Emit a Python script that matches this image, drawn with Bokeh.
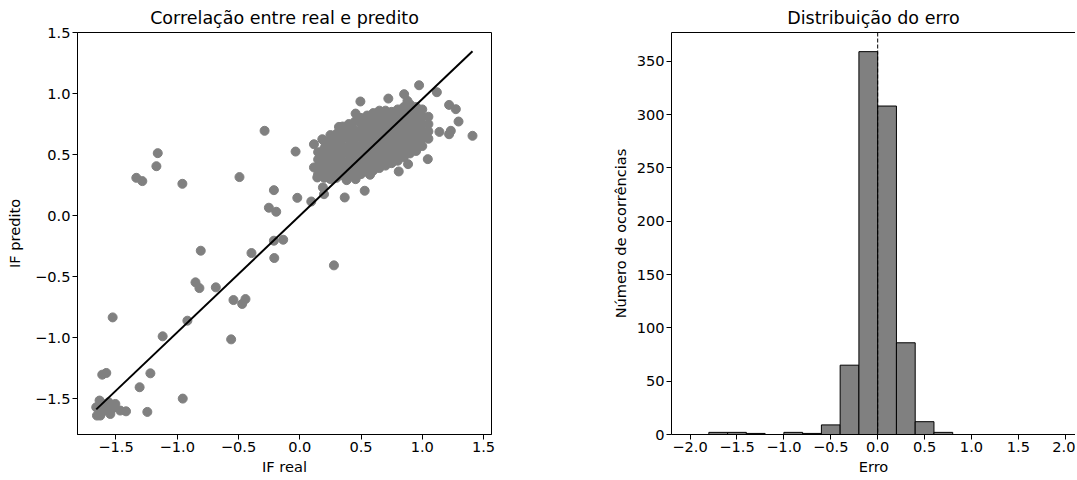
from bokeh.plotting import figure
from bokeh.models import Range1d, FixedTicker, CustomJSTickFormatter, LinearAxis, Span
from bokeh.layouts import row
from bokeh.embed import file_html
from bokeh.resources import INLINE

FONT = "DejaVu Sans"

# ---------------- data: scatter (real vs predicted) ----------------
outlier_real = [-0.287, -0.034, -1.159, -1.170, -1.334, -1.285, -0.958, -0.492, -0.211, -0.020,
                -0.252, -0.192, -0.211, -0.135, -0.208, -0.394, -0.808, 0.279, -0.851, -0.819,
                -0.685, -0.541, -0.443, -0.470, -0.917, -1.119, -0.560, -1.527, -1.612, -1.579,
                -1.219, -1.307, -0.955, -1.244, -1.418,
                -1.655, -1.634, -1.614, -1.574, -1.546, -1.505, -1.601, -1.661, -1.465, -1.533,
                -1.628, -1.560,
                0.094, 0.189, 0.198, 0.367, 0.530, 0.383, 0.143, 0.116, 1.045, 1.140,
                1.219, 1.233, 1.296, 1.410, 1.219, 1.274, 1.119, 0.974, 0.852, 0.723,
                0.495, 0.456, 0.879, 0.808, 0.884, 0.574, 0.456, 0.982, 0.116, 0.184, 0.320]
outlier_pred = [0.695, 0.525, 0.512, 0.405, 0.310, 0.283, 0.261, 0.316, 0.209, 0.146,
                0.065, 0.032, -0.205, -0.197, -0.347, -0.306, -0.287, -0.407, -0.546, -0.593,
                -0.587, -0.691, -0.683, -0.723, -0.860, -0.988, -1.013, -0.833, -1.302, -1.288,
                -1.291, -1.405, -1.498, -1.607, -1.602,
                -1.637, -1.514, -1.610, -1.582, -1.624, -1.542, -1.542, -1.569, -1.596, -1.582,
                -1.637, -1.528,
                0.116, 0.231, 0.176, 0.149, 0.204, 0.291, 0.313, 0.395, 0.463, 0.686,
                0.667, 0.695, 0.771, 0.654, 0.907, 0.872, 1.011, 1.068, 0.995, 0.959,
                0.935, 0.836, 0.940, 0.362, 0.422, 0.335, 0.299, 0.599, 0.585, 0.626, 0.727]

cluster_real = [0.15, 0.15, 0.15, 0.15,
                0.20, 0.20, 0.20, 0.20, 0.20, 0.20,
                0.25, 0.25, 0.25, 0.25, 0.25, 0.25, 0.25,
                0.30, 0.30, 0.30, 0.30, 0.30, 0.30, 0.30,
                0.35, 0.35, 0.35, 0.35, 0.35, 0.35, 0.35, 0.35,
                0.40, 0.40, 0.40, 0.40, 0.40, 0.40, 0.40, 0.40,
                0.45, 0.45, 0.45, 0.45, 0.45, 0.45, 0.45, 0.45,
                0.50, 0.50, 0.50, 0.50, 0.50, 0.50, 0.50, 0.50, 0.50,
                0.55, 0.55, 0.55, 0.55, 0.55, 0.55, 0.55, 0.55, 0.55,
                0.60, 0.60, 0.60, 0.60, 0.60, 0.60, 0.60, 0.60, 0.60,
                0.65, 0.65, 0.65, 0.65, 0.65, 0.65, 0.65, 0.65, 0.65,
                0.70, 0.70, 0.70, 0.70, 0.70, 0.70, 0.70, 0.70, 0.70,
                0.75, 0.75, 0.75, 0.75, 0.75, 0.75, 0.75, 0.75,
                0.80, 0.80, 0.80, 0.80, 0.80, 0.80, 0.80, 0.80,
                0.85, 0.85, 0.85, 0.85, 0.85, 0.85, 0.85, 0.85,
                0.90, 0.90, 0.90, 0.90, 0.90, 0.90, 0.90, 0.90,
                0.95, 0.95, 0.95, 0.95, 0.95, 0.95, 0.95,
                1.00, 1.00, 1.00, 1.00, 1.00, 1.00,
                1.05, 1.05, 1.05, 1.05]
cluster_pred = [0.34, 0.40, 0.46, 0.52,
                0.31, 0.37, 0.43, 0.49, 0.55, 0.61,
                0.30, 0.36, 0.42, 0.48, 0.54, 0.60, 0.66,
                0.31, 0.37, 0.43, 0.49, 0.55, 0.61, 0.67,
                0.33, 0.39, 0.45, 0.51, 0.57, 0.63, 0.69, 0.73,
                0.33, 0.39, 0.45, 0.51, 0.57, 0.63, 0.69, 0.75,
                0.34, 0.40, 0.46, 0.52, 0.58, 0.64, 0.70, 0.77,
                0.34, 0.40, 0.46, 0.52, 0.58, 0.64, 0.70, 0.76, 0.80,
                0.36, 0.42, 0.48, 0.54, 0.60, 0.66, 0.72, 0.78, 0.82,
                0.37, 0.43, 0.49, 0.55, 0.61, 0.67, 0.73, 0.79, 0.84,
                0.39, 0.45, 0.51, 0.57, 0.63, 0.69, 0.75, 0.81, 0.86,
                0.41, 0.47, 0.53, 0.59, 0.65, 0.71, 0.77, 0.83, 0.86,
                0.43, 0.49, 0.55, 0.61, 0.67, 0.73, 0.79, 0.85,
                0.45, 0.51, 0.57, 0.63, 0.69, 0.75, 0.81, 0.87,
                0.48, 0.54, 0.60, 0.66, 0.72, 0.78, 0.84, 0.89,
                0.51, 0.57, 0.63, 0.69, 0.75, 0.81, 0.87, 0.91,
                0.53, 0.59, 0.65, 0.71, 0.77, 0.83, 0.89,
                0.57, 0.63, 0.69, 0.75, 0.81, 0.87,
                0.63, 0.69, 0.75, 0.81]

fit_slope = 0.955
fit_intercept = 0.0

scatter_ticks = [-1.5, -1.0, -0.5, 0.0, 0.5, 1.0, 1.5]

# ---------------- data: error histogram ----------------
bin_edges = [-2.0, -1.8, -1.6, -1.4, -1.2, -1.0, -0.8, -0.6, -0.4, -0.2, 0.0,
             0.2, 0.4, 0.6, 0.8, 1.0, 1.2, 1.4, 1.6, 1.8, 2.0]
bin_counts = [0, 2, 2, 1, 0, 2, 1, 9, 65, 359, 308, 86, 12, 2, 0, 0, 0, 0, 0, 0]
hist_x_ticks = [-2.0, -1.5, -1.0, -0.5, 0.0, 0.5, 1.0, 1.5, 2.0]
hist_y_ticks = [0, 50, 100, 150, 200, 250, 300, 350]

# ---------------- helpers ----------------
minus_fmt = "return tick.toFixed(1).replace('-', '\\u2212');"
TICK_SIZE = "14.6px"
LABEL_SIZE = "14.6px"
TITLE_SIZE = "17.5px"


def style_axis(ax, label_standoff):
    ax.axis_line_color = "black"
    ax.axis_line_width = 1
    ax.major_tick_line_color = "black"
    ax.major_tick_line_width = 1
    ax.major_tick_out = 5
    ax.major_tick_in = 0
    ax.minor_tick_line_color = None
    ax.major_label_text_font = FONT
    ax.major_label_text_font_size = TICK_SIZE
    ax.major_label_text_color = "black"
    ax.major_label_text_line_height = 1.0
    ax.major_label_standoff = 2
    ax.axis_label_text_font = FONT
    ax.axis_label_text_font_size = LABEL_SIZE
    ax.axis_label_text_font_style = "normal"
    ax.axis_label_text_color = "black"
    ax.axis_label_text_line_height = 1.0
    ax.axis_label_standoff = label_standoff


def style_title(p):
    p.title.text_font = FONT
    p.title.text_font_size = TITLE_SIZE
    p.title.text_font_style = "normal"
    p.title.text_color = "black"
    p.title.align = "center"
    p.title.standoff = 9


# ---------------- left: scatter ----------------
p1 = figure(width=560, height=478,
            x_range=Range1d(-1.814, 1.565), y_range=Range1d(-1.792, 1.5),
            output_backend="svg", toolbar_location=None,
            min_border_left=77, min_border_right=69,
            min_border_top=32, min_border_bottom=44,
            title="Correlação entre real e predito")
style_title(p1)
p1.grid.grid_line_color = None
p1.outline_line_color = "black"
p1.outline_line_width = 1
p1.xaxis.ticker = FixedTicker(ticks=scatter_ticks)
p1.yaxis.ticker = FixedTicker(ticks=scatter_ticks)
p1.xaxis.formatter = CustomJSTickFormatter(code=minus_fmt)
p1.yaxis.formatter = CustomJSTickFormatter(code=minus_fmt)
p1.xaxis.axis_label = "IF real"
p1.yaxis.axis_label = "IF predito"
style_axis(p1.xaxis[0], 3)
style_axis(p1.yaxis[0], 9)

all_real = outlier_real + cluster_real
all_pred = outlier_pred + cluster_pred
p1.scatter(all_real, all_pred, size=9, fill_color="#808080", line_color="#808080")

x0, x1 = min(all_real), max(all_real)
p1.line([x0, x1], [fit_slope * x0 + fit_intercept, fit_slope * x1 + fit_intercept],
        line_color="black", line_width=2)

# ---------------- right: histogram ----------------
p2 = figure(width=515, height=478,
            x_range=Range1d(-2.198, 2.109), y_range=Range1d(0, 376.95),
            output_backend="svg", toolbar_location=None,
            min_border_left=111, min_border_right=0,
            min_border_top=32, min_border_bottom=44,
            title="Distribuição do erro")
style_title(p2)
p2.grid.grid_line_color = None
p2.outline_line_color = None
p2.xaxis.ticker = FixedTicker(ticks=hist_x_ticks)
p2.yaxis.ticker = FixedTicker(ticks=hist_y_ticks)
p2.xaxis.formatter = CustomJSTickFormatter(code=minus_fmt)
p2.xaxis.axis_label = "Erro"
p2.yaxis.axis_label = "Número de ocorrências"
style_axis(p2.xaxis[0], 3)
style_axis(p2.yaxis[0], 5)

top_axis = LinearAxis(ticker=FixedTicker(ticks=[]), axis_line_color="black",
                      major_tick_line_color=None, minor_tick_line_color=None,
                      major_tick_out=0, major_label_standoff=0,
                      major_label_text_font_size="0px")
p2.add_layout(top_axis, "above")

p2.quad(left=bin_edges[:-1], right=bin_edges[1:], bottom=0, top=bin_counts,
        fill_color="#808080", line_color="black", line_width=1)
p2.add_layout(Span(location=0, dimension="height", line_color="black",
                   line_dash="4 2", line_width=1))

layout = row(p1, p2)
open("out.html", "w").write(file_html(layout, INLINE))
